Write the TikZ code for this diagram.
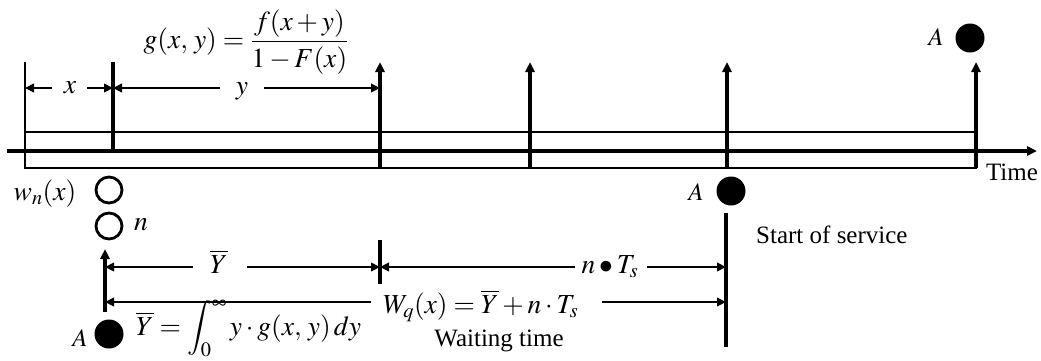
\documentclass[tikz,border=0pt]{standalone}
\usepackage{mathptmx}
\usepackage{fontspec}
\setmainfont{Liberation Serif}
\usetikzlibrary{arrows.meta}
\begin{document}
\begin{tikzpicture}[x=1pt,y=-1pt,
  ln/.style={line width=3.1pt},
  thinln/.style={line width=2.8pt},
  arr/.style={line width=3.1pt,-{Triangle[length=10pt,width=9pt]}},
  dimarr/.style={line width=2.8pt,-{Triangle[length=9pt,width=8.5pt]}},
  lbl/.style={font=\fontsize{25}{30}\selectfont, inner sep=0pt},
  mlbl/.style={font=\fontsize{27.5}{32}\selectfont, inner sep=0pt},
  dotfill/.style={circle,fill=black,minimum size=29pt,inner sep=0pt},
  dotopen/.style={circle,draw=black,line width=2.8pt,minimum size=26pt,inner sep=0pt}]
\useasboundingbox (0,0) rectangle (1041,360);

% ---------- coordinates ----------
\coordinate (rTL) at (25,132);
\coordinate (rBR) at (976,168);
\coordinate (p0t) at (25,62);
\coordinate (p0b) at (25,132);
\coordinate (p1t) at (113,62);
\coordinate (p1b) at (113,151);
\coordinate (ax0) at (7,151);
\coordinate (ax1) at (1037,151);
\coordinate (a1b) at (380,168);  \coordinate (a1t) at (380,62);
\coordinate (a2b) at (530,168);  \coordinate (a2t) at (530,62);
\coordinate (a3b) at (727,168);  \coordinate (a3t) at (727,62);
\coordinate (a4b) at (976,168);  \coordinate (a4t) at (976,62);

% ---------- time axis and bar ----------
\draw[thinln] (rTL) rectangle (rBR);
\draw[thinln] (p0t) -- (p0b);
\draw[ln] (p1t) -- (p1b);
\draw[arr] (ax0) -- (ax1);
\draw[arr] (a1b) -- (a1t);
\draw[arr] (a2b) -- (a2t);
\draw[arr] (a3b) -- (a3t);
\draw[arr] (a4b) -- (a4t);

% ---------- x and y dimensions ----------
\node[mlbl] (lx) at (70,88) {$x$};
\coordinate (x0) at (25,88);  \coordinate (x1) at (52,88);
\coordinate (x2) at (87,88);  \coordinate (x3) at (113,88);
\draw[dimarr] (x1) -- (x0);
\draw[dimarr] (x2) -- (x3);

\node[mlbl,anchor=base] (ly) at (242,94) {$y$};
\coordinate (y0) at (113,88);  \coordinate (y1) at (220,88);
\coordinate (y2) at (264,88);  \coordinate (y3) at (380,88);
\draw[dimarr] (y1) -- (y0);
\draw[dimarr] (y2) -- (y3);

\node[mlbl] (gfor) at (246,42) {$\displaystyle g(x,\,y)=\frac{f(x+y)}{1-F(x)}$};

% ---------- labels on the axis ----------
\node[lbl] (tA) at (936,37) {$A$};
\node[dotfill] (cA) at (970,38) {};
\node[lbl] (time) at (1012,172) {Time};

\node[mlbl,anchor=base] (wn) at (45,200) {$w_n(x)$};
\node[dotopen] (o1) at (109,190) {};
\node[dotopen] (o2) at (109,226) {};
\node[mlbl,anchor=base] (nl) at (141,230) {$n$};

\node[lbl] (mA) at (696,192) {$A$};
\node[dotfill] (mC) at (731,191) {};
\node[lbl,anchor=west] (sos) at (756,235) {Start of service};

% ---------- lower construction ----------
\coordinate (sv0) at (726,213);
\coordinate (sv1) at (726,347);
\draw[ln] (sv0) -- (sv1);
\coordinate (tk0) at (380,240);
\coordinate (tk1) at (380,284);
\draw[ln] (tk0) -- (tk1);
\coordinate (up0) at (105,312);
\coordinate (up1) at (105,249);
\draw[arr] (up0) -- (up1);

\node[mlbl,anchor=base] (lyb) at (219,273) {$\overline{Y}$};
\coordinate (yb0) at (105,267);  \coordinate (yb1) at (193,267);
\coordinate (yb2) at (247,267);  \coordinate (yb3) at (380,267);
\draw[dimarr] (yb1) -- (yb0);
\draw[dimarr] (yb2) -- (yb3);

\node[mlbl,anchor=base] (lnt) at (610,273) {$n\bullet T_s$};
\coordinate (nt0) at (380,267);  \coordinate (nt1) at (575,267);
\coordinate (nt2) at (647,267);  \coordinate (nt3) at (726,267);
\draw[dimarr] (nt1) -- (nt0);
\draw[dimarr] (nt2) -- (nt3);

\node[mlbl,anchor=base west] (wq) at (383,313) {$W_q(x)=\overline{Y}+n\cdot T_s$};
\coordinate (wq0) at (105,302);  \coordinate (wq1) at (371,302);
\coordinate (wq2) at (602,302);  \coordinate (wq3) at (726,302);
\draw[dimarr] (wq1) -- (wq0);
\draw[dimarr] (wq2) -- (wq3);
\node[lbl,anchor=base] (wt) at (499,346) {Waiting time};

\node[lbl] (bA) at (80,338) {$A$};
\node[dotfill] (bC) at (109,334) {};
\node[mlbl,anchor=base west] (ybi) at (136,335) {$\overline{Y}=\displaystyle\int_0^\infty y\cdot g(x,\,y)\,dy$};
\end{tikzpicture}
\end{document}
